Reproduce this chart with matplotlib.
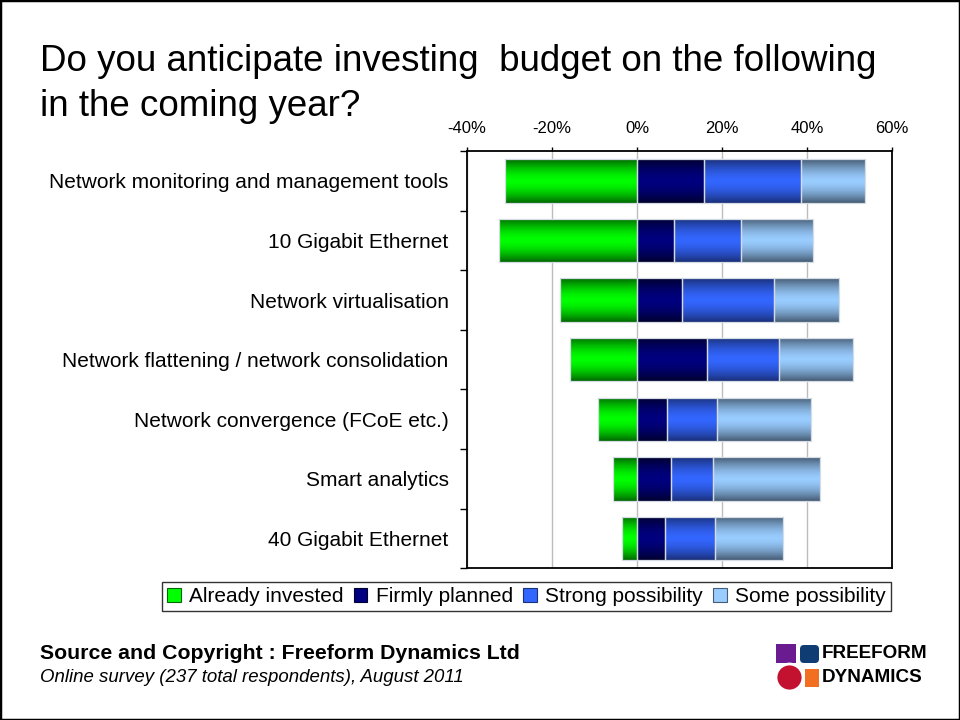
import numpy as np
import matplotlib.pyplot as plt
from matplotlib.colors import to_rgb
from matplotlib.patches import Patch, Rectangle, FancyBboxPatch, Circle

plt.rcParams['font.family'] = ['Liberation Sans', 'DejaVu Sans']

categories = [
    "Network monitoring and management tools",
    "10 Gigabit Ethernet",
    "Network virtualisation",
    "Network flattening / network consolidation",
    "Network convergence (FCoE etc.)",
    "Smart analytics",
    "40 Gigabit Ethernet",
]
already = [30.9, 32.3, 18.0, 15.8, 9.2, 5.7, 3.6]
firmly = [15.7, 8.7, 10.5, 16.4, 7.0, 8.0, 6.6]
strong = [22.9, 15.7, 21.7, 17.0, 11.7, 9.8, 11.7]
some = [15.1, 16.9, 15.3, 17.3, 22.3, 25.3, 16.1]
series_names = ["Already invested", "Firmly planned", "Strong possibility", "Some possibility"]
x_ticks = [-40, -20, 0, 20, 40, 60]

# (edge colour, centre colour) of the vertical gradient on each series
gradients = [
    ("#006a00", "#00ff00"),
    ("#000030", "#000080"),
    ("#1a307a", "#3366ff"),
    ("#465c74", "#99ccff"),
]

fig = plt.figure(figsize=(9.6, 7.2), dpi=100)
fig.patch.set_facecolor("white")
ax = fig.add_axes([466.7 / 960, 1 - 568.3 / 720, 425.6 / 960, 417.3 / 720])

y = np.arange(len(categories))
firmly_arr = np.array(firmly)
strong_arr = np.array(strong)
starts = [
    np.zeros(len(y)),
    np.zeros(len(y)),
    firmly_arr,
    firmly_arr + strong_arr,
]
widths = [-np.array(already), firmly_arr, strong_arr, np.array(some)]

ramp = np.abs(np.linspace(-1, 1, 64)) ** 1.6
for left, width, (edge, centre), name in zip(starts, widths, gradients, series_names):
    bars = ax.barh(y, width, left=left, height=0.73, facecolor="none",
                   edgecolor="#d4dbe3", linewidth=0.9, label=name, zorder=3)
    e = np.array(to_rgb(edge))
    c = np.array(to_rgb(centre))
    grad = c[None, :] + (e - c)[None, :] * ramp[:, None]
    grad = grad[:, None, :]
    for patch in bars.patches:
        x0, y0 = patch.get_x(), patch.get_y()
        w, h = patch.get_width(), patch.get_height()
        im = ax.imshow(grad, extent=(x0, x0 + w, y0 + h, y0), aspect="auto",
                       interpolation="bilinear", zorder=2)
        im.set_clip_path(patch)

ax.set_xlim(-40, 60)
ax.set_ylim(len(categories) - 0.5, -0.5)

ax.set_xticks(x_ticks)
ax.set_xticklabels([f"{t}%" for t in x_ticks])
ax.xaxis.set_ticks_position("top")
ax.tick_params(axis="x", direction="out", length=3, width=1, pad=8,
               labelsize=12, colors="black")
ax.set_yticks(y)
ax.set_yticklabels(categories)
ax.set_yticks(np.arange(-0.5, len(categories)), minor=True)
ax.tick_params(axis="y", which="major", length=0, pad=13, labelsize=15)
ax.tick_params(axis="y", which="minor", direction="out", length=5, width=1)

ax.grid(axis="x", color="#bdbdbd", linewidth=1, zorder=0)
ax.set_axisbelow(True)
for spine in ax.spines.values():
    spine.set_color("black")
    spine.set_linewidth(1.3)
    spine.set_zorder(5)

legend_handles = [Patch(facecolor=c, edgecolor=e, linewidth=0.8, label=n)
                  for (e, c), n in zip(gradients, series_names)]
leg = fig.legend(handles=legend_handles, loc="center",
                 bbox_to_anchor=(526.5 / 960, 1 - 596.5 / 720), ncol=4,
                 fontsize=15, frameon=True, fancybox=False, edgecolor="black",
                 handlelength=0.65, handleheight=0.65, handletextpad=0.4,
                 columnspacing=0.5, borderpad=0.25, borderaxespad=0)
leg.get_frame().set_linewidth(1)

fig.text(40 / 960, 1 - 71 / 720, "Do you anticipate investing  budget on the following",
         fontsize=26.5, ha="left", va="baseline")
fig.text(40 / 960, 1 - 116 / 720, "in the coming year?",
         fontsize=26.5, ha="left", va="baseline")

fig.text(40 / 960, 1 - 659 / 720, "Source and Copyright : Freeform Dynamics Ltd",
         fontsize=15.3, fontweight="bold", ha="left", va="baseline")
fig.text(40 / 960, 1 - 682 / 720, "Online survey (237 total respondents), August 2011",
         fontsize=13.4, style="italic", ha="left", va="baseline")

# Freeform Dynamics logo, drawn in pixel coordinates
logo = fig.add_axes([770 / 960, 1 - 692 / 720, 160 / 960, 52 / 720])
logo.set_xlim(770, 930)
logo.set_ylim(692, 640)
logo.axis("off")
logo.add_patch(Rectangle((776, 644), 20, 19, facecolor="#6a1b8f", edgecolor="none"))
logo.add_patch(FancyBboxPatch((800, 645), 19, 18, boxstyle="round,pad=0,rounding_size=4",
                              facecolor="#0f3d73", edgecolor="none"))
logo.add_patch(Rectangle((805, 669), 14, 18, facecolor="#f26f21", edgecolor="none"))
logo.add_patch(Circle((789.5, 677.5), 13.5, facecolor="#c2122f", edgecolor="white",
                      linewidth=2))
logo.text(822, 654, "FREEFORM", fontsize=13.6, fontweight="bold", ha="left",
          va="center")
logo.text(822, 677.5, "DYNAMICS", fontsize=13.6, fontweight="bold", ha="left",
          va="center")

fig.patches.append(Rectangle((0, 0), 1, 1, transform=fig.transFigure, fill=False,
                             edgecolor="black", linewidth=2.5, zorder=10))

fig.savefig("out.png", dpi=100)
